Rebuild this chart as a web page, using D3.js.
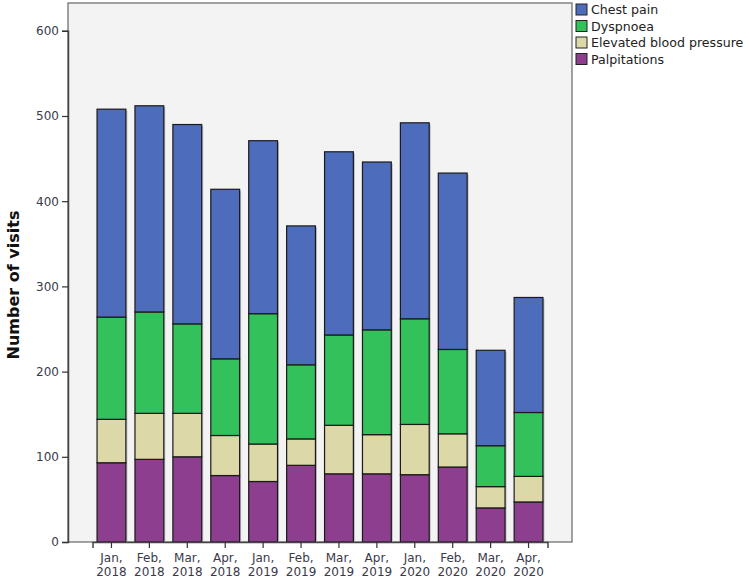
<!DOCTYPE html>
<html><head><meta charset="utf-8">
<script src="https://cdn.jsdelivr.net/npm/d3@7"></script>
<style>body{margin:0;background:#fff}svg{display:block}</style>
</head><body>
<svg id="c" width="749" height="581"></svg>
<script>
const months = ["Jan,", "Feb,", "Mar,", "Apr,", "Jan,", "Feb,", "Mar,", "Apr,", "Jan,", "Feb,", "Mar,", "Apr,"];
const years = ["2018", "2018", "2018", "2018", "2019", "2019", "2019", "2019", "2020", "2020", "2020", "2020"];
const seriesNames = ["Palpitations", "Elevated blood pressure", "Dyspnoea", "Chest pain"];
const palpitations = [93, 97, 100, 78, 71, 90, 80, 80, 79, 88, 40, 47];
const elevatedBP = [51, 54, 51, 47, 44, 31, 57, 46, 59, 39, 25, 30];
const dyspnoea = [120, 119, 105, 90, 153, 87, 106, 123, 124, 99, 48, 75];
const chestPain = [244, 242, 234, 199, 203, 163, 215, 197, 230, 207, 112, 135];
const yTicks = [0, 100, 200, 300, 400, 500, 600];
const colors = {"Chest pain": "#4d6cbc", "Dyspnoea": "#33c15b", "Elevated blood pressure": "#ddd8a8", "Palpitations": "#8d3e8e"};

const svg = d3.select("#c");
const L = 68, R = 572, T = 3, B = 542;
const font = "'DejaVu Sans', sans-serif";

const data = months.map((m, i) => ({
  key: i, m, y: years[i],
  "Palpitations": palpitations[i],
  "Elevated blood pressure": elevatedBP[i],
  "Dyspnoea": dyspnoea[i],
  "Chest pain": chestPain[i]
}));
const stack = d3.stack().keys(seriesNames)(data);

const x = d3.scaleBand().domain(d3.range(12)).range([L + 24.5, R - 24.5]).paddingInner(0.24).paddingOuter(0.12);
const y = d3.scaleLinear().domain([0, 600]).range([B, B - 600 * 0.852]);

svg.append("rect").attr("x", L).attr("y", T).attr("width", R - L).attr("height", B - T)
  .attr("fill", "#f3f3f3").attr("stroke", "#666").attr("stroke-width", 1.2);

// bar shadows
const g = svg.append("g");
g.selectAll("rect.sh").data(data).join("rect").attr("class", "sh")
  .attr("x", d => x(d.key) + 1.5).attr("y", d => y(stack[3][d.key][1]) + 1.5)
  .attr("width", x.bandwidth()).attr("height", d => B - y(stack[3][d.key][1]) - 1.5)
  .attr("fill", "#bbb");

stack.forEach(s => {
  g.append("g").selectAll("rect").data(s).join("rect")
    .attr("x", (d, i) => x(i)).attr("y", d => y(d[1]))
    .attr("width", x.bandwidth()).attr("height", d => y(d[0]) - y(d[1]))
    .attr("fill", colors[s.key]).attr("stroke", "#1a1a1a").attr("stroke-width", 1.2);
});

// y axis
const ya = svg.append("g").attr("transform", `translate(${L},0)`)
  .call(d3.axisLeft(y).tickValues(yTicks).tickSize(6).tickPadding(3));
ya.select(".domain").attr("stroke", "#444").attr("stroke-width", 1.5);
ya.selectAll(".tick line").attr("stroke", "#333").attr("stroke-width", 1.2);
ya.selectAll(".tick text").attr("font-family", font).attr("font-size", 12).attr("fill", "#3a3a4a");

// x axis
const xa = svg.append("g").attr("transform", `translate(0,${B})`)
  .call(d3.axisBottom(x).tickSize(6).tickFormat(""));
xa.select(".domain").attr("stroke", "#444").attr("stroke-width", 1.5);
xa.selectAll(".tick line").attr("stroke", "#333").attr("stroke-width", 1.2);
xa.selectAll(".tick").each(function(d) {
  const t = d3.select(this).append("text").attr("font-family", font).attr("font-size", 12)
    .attr("fill", "#3a3a4a").attr("text-anchor", "middle");
  t.append("tspan").attr("x", 0).attr("y", 20).text(months[d]);
  t.append("tspan").attr("x", 0).attr("y", 34).text(years[d]);
});

svg.append("text").attr("transform", "translate(19,285) rotate(-90)")
  .attr("text-anchor", "middle").attr("font-family", font).attr("font-weight", "bold")
  .attr("font-size", 16).attr("fill", "#111").text("Number of visits");

// legend
const legendKeys = ["Chest pain", "Dyspnoea", "Elevated blood pressure", "Palpitations"];
const lg = svg.append("g").attr("transform", "translate(576,4)");
legendKeys.forEach((k, i) => {
  lg.append("rect").attr("x", 0).attr("y", i * 16.5).attr("width", 11).attr("height", 11)
    .attr("fill", colors[k]).attr("stroke", "#222").attr("stroke-width", 1);
  lg.append("text").attr("x", 15).attr("y", i * 16.5 + 10).attr("font-family", font)
    .attr("font-size", 12.6).attr("fill", "#222").text(k);
});
</script>
</body></html>
